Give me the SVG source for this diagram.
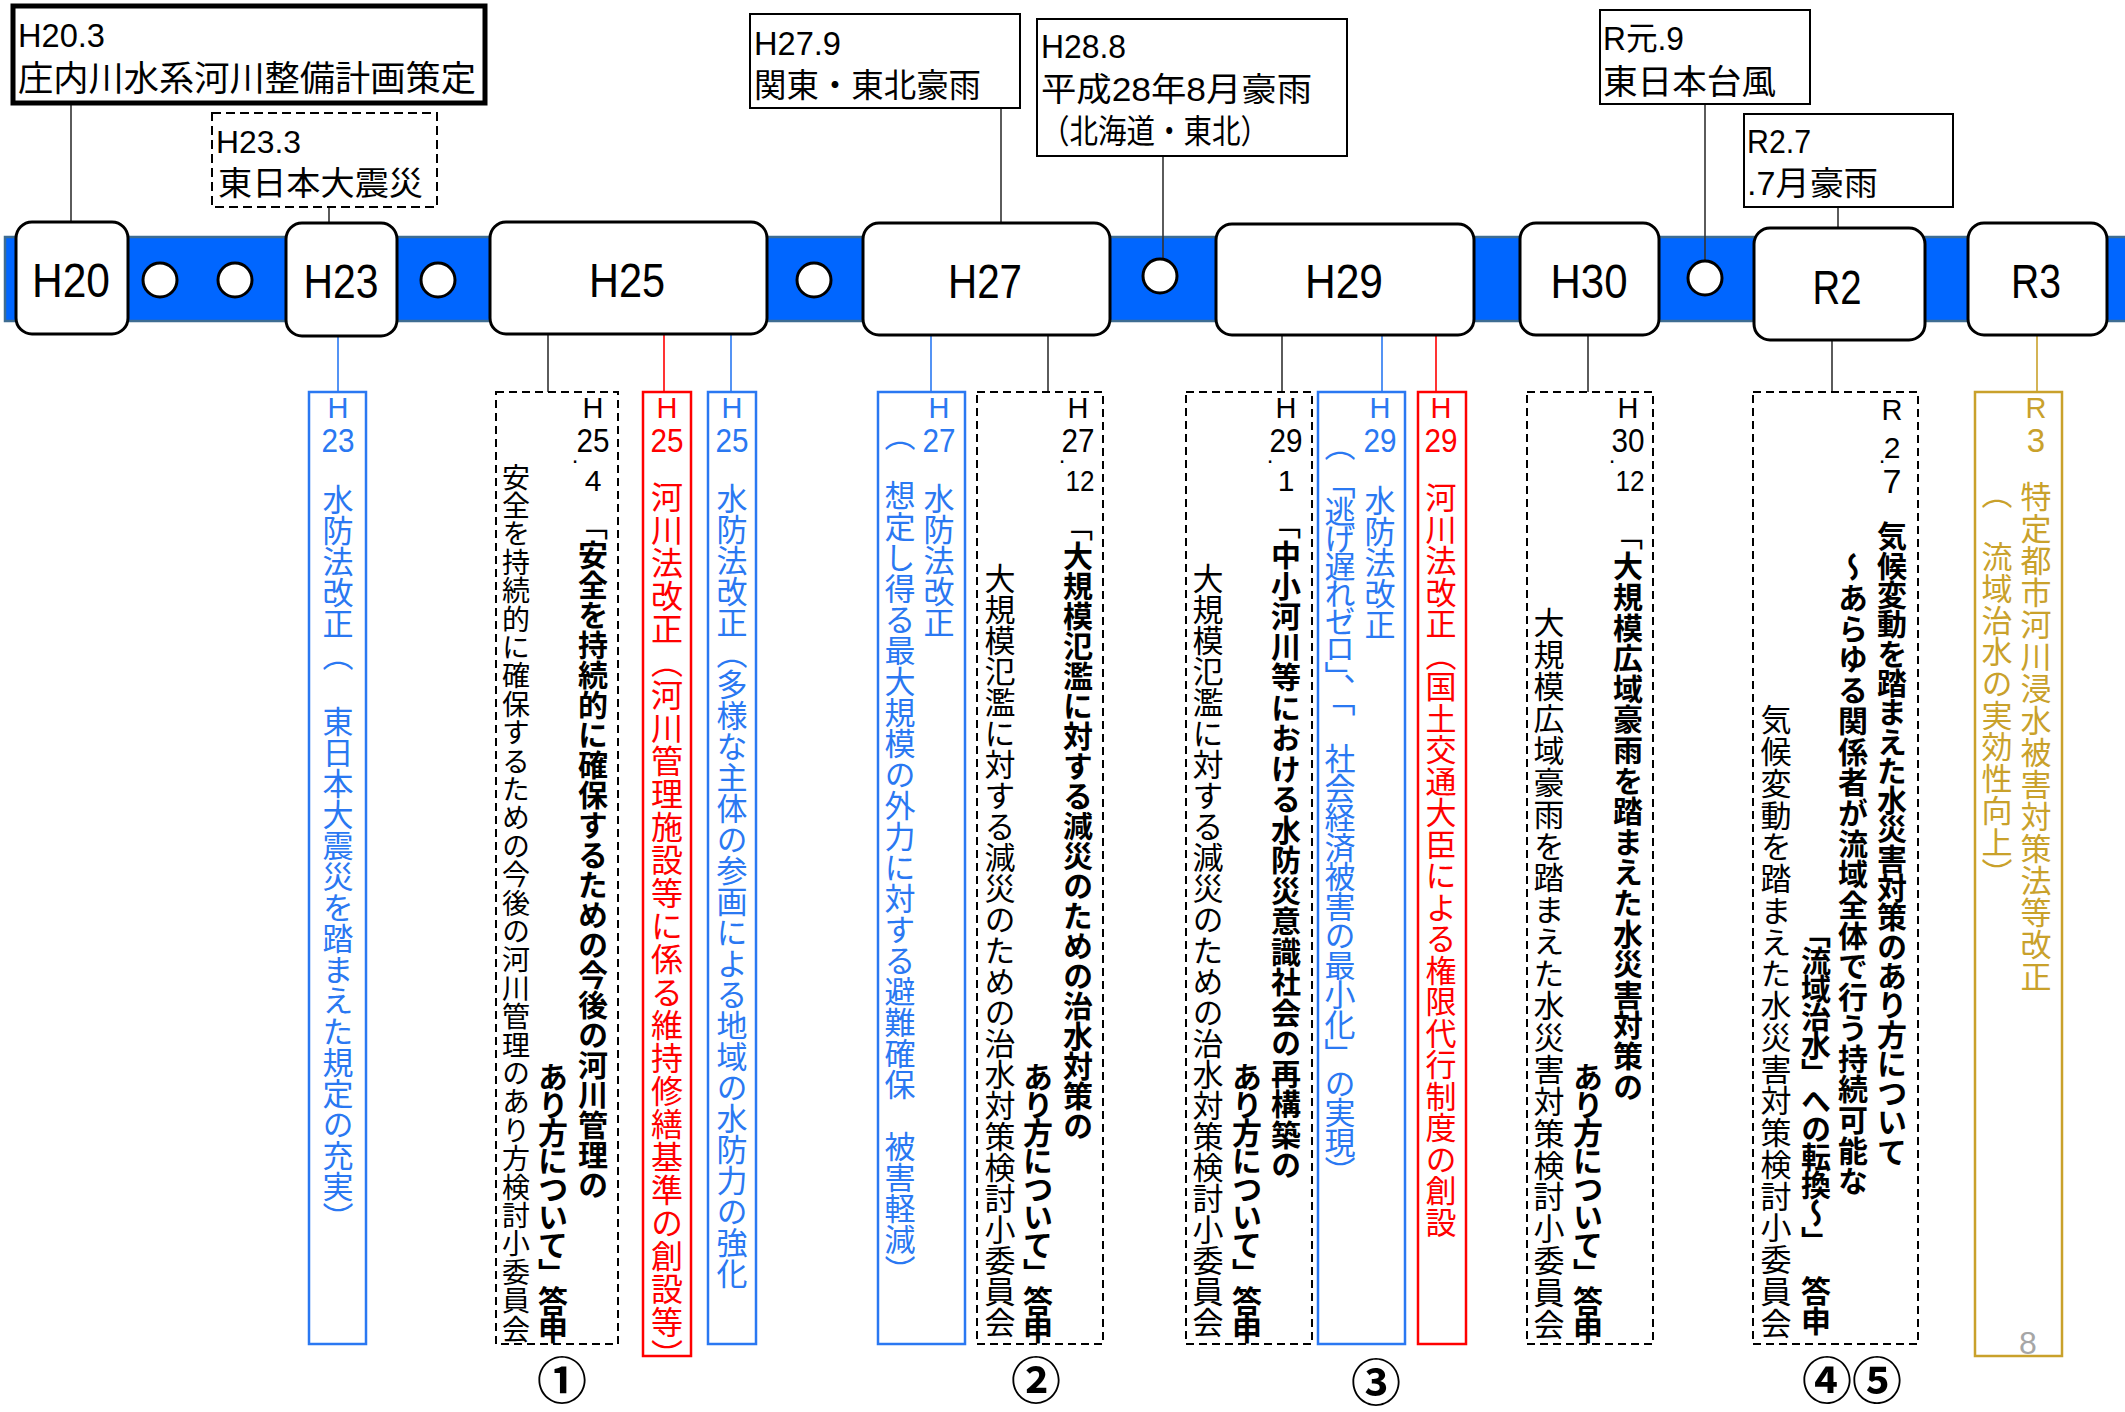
<svg xmlns="http://www.w3.org/2000/svg" width="2125" height="1412" viewBox="0 0 2125 1412">
<defs>
<style>
.band{fill:#0066FF;stroke:#3E6D92;stroke-width:2.5}
.node rect{fill:#fff;stroke:#000;stroke-width:3}
.dot{fill:#fff;stroke:#000;stroke-width:3}
.lbl{font-family:"Liberation Sans","Noto Sans CJK JP",sans-serif;font-size:48px;text-anchor:middle;fill:#000}
.ev rect{fill:#fff;stroke:#000;stroke-width:2}
.ev rect.thick{stroke-width:5}
.ev rect.dash{stroke-dasharray:9 5}
.evt{font-family:"Liberation Sans","Noto Sans CJK JP",sans-serif;fill:#000}
.evj{font-family:"Noto Sans CJK JP",sans-serif;fill:#000}
.box{fill:#fff;stroke-width:2.5}
.bdash{fill:#fff;stroke:#000;stroke-width:2;stroke-dasharray:8 5}
.bblue{stroke:#2A78F2}
.bred{stroke:#FF0000}
.bgold{stroke:#C9A12B}
.v{font-family:"Noto Sans CJK JP",sans-serif;writing-mode:vertical-rl}
.b{font-weight:bold}
.hd{font-family:"Liberation Sans",sans-serif;text-anchor:middle}
.blue{fill:#2A78F2}
.red{fill:#FF0000}
.gold{fill:#C9A12B}
.blk{fill:#000}
.cn{stroke:#333;stroke-width:1.6;fill:none}
.cnb{stroke:#2A78F2;stroke-width:1.6}
.cnr{stroke:#FF0000;stroke-width:1.6}
.cng{stroke:#C9A12B;stroke-width:1.6}
.circ{font-family:"Noto Sans CJK JP",sans-serif;font-size:50px;font-weight:bold;text-anchor:middle;fill:#000}
</style>
</defs>
<rect width="2125" height="1412" fill="#fff"/>

<!-- timeline band -->
<rect class="band" x="5" y="237" width="2125" height="84"/>

<g id="connectors">
  <line class="cn" x1="71" y1="103" x2="71" y2="222"/>
  <line class="cn" x1="329" y1="207" x2="329" y2="223"/>
  <line class="cn" x1="1001" y1="108" x2="1001" y2="223"/>
  <line class="cn" x1="1163" y1="156" x2="1163" y2="259"/>
  <line class="cn" x1="1705" y1="104" x2="1705" y2="261"/>
  <line class="cn" x1="1838" y1="207" x2="1838" y2="228"/>
  <line class="cnb" x1="338" y1="336" x2="338" y2="392"/>
  <line class="cn" x1="548" y1="334" x2="548" y2="392"/>
  <line class="cnr" x1="664" y1="334" x2="664" y2="392"/>
  <line class="cnb" x1="731" y1="334" x2="731" y2="392"/>
  <line class="cnb" x1="931" y1="335" x2="931" y2="392"/>
  <line class="cn" x1="1048" y1="335" x2="1048" y2="392"/>
  <line class="cn" x1="1282" y1="335" x2="1282" y2="392"/>
  <line class="cnb" x1="1382" y1="335" x2="1382" y2="392"/>
  <line class="cnr" x1="1436" y1="335" x2="1436" y2="392"/>
  <line class="cn" x1="1588" y1="335" x2="1588" y2="392"/>
  <line class="cn" x1="1832" y1="340" x2="1832" y2="392"/>
  <line class="cng" x1="2037" y1="335" x2="2037" y2="392"/>
</g>

<!-- small event circles on the band -->
<g id="dots">
  <circle class="dot" cx="160" cy="280" r="17"/>
  <circle class="dot" cx="235" cy="280" r="17"/>
  <circle class="dot" cx="438" cy="280" r="17"/>
  <circle class="dot" cx="814" cy="280" r="17"/>
  <circle class="dot" cx="1160" cy="276" r="17"/>
  <circle class="dot" cx="1705" cy="278" r="17"/>
</g>

<!-- year nodes -->
<g id="node-H20" class="node"><rect x="16" y="222" width="112" height="112" rx="16"/><text class="lbl" x="71" y="297" textLength="78" lengthAdjust="spacingAndGlyphs">H20</text></g>
<g id="node-H23" class="node"><rect x="286" y="223" width="111" height="113" rx="16"/><text class="lbl" x="341" y="298" textLength="75" lengthAdjust="spacingAndGlyphs">H23</text></g>
<g id="node-H25" class="node"><rect x="490" y="222" width="277" height="112" rx="16"/><text class="lbl" x="627" y="297" textLength="76" lengthAdjust="spacingAndGlyphs">H25</text></g>
<g id="node-H27" class="node"><rect x="863" y="223" width="247" height="112" rx="16"/><text class="lbl" x="985" y="298" textLength="74" lengthAdjust="spacingAndGlyphs">H27</text></g>
<g id="node-H29" class="node"><rect x="1216" y="224" width="258" height="111" rx="16"/><text class="lbl" x="1344" y="298" textLength="78" lengthAdjust="spacingAndGlyphs">H29</text></g>
<g id="node-H30" class="node"><rect x="1520" y="223" width="139" height="112" rx="16"/><text class="lbl" x="1589" y="298" textLength="77" lengthAdjust="spacingAndGlyphs">H30</text></g>
<g id="node-R2" class="node"><rect x="1754" y="228" width="171" height="112" rx="16"/><text class="lbl" x="1837" y="304" textLength="49" lengthAdjust="spacingAndGlyphs">R2</text></g>
<g id="node-R3" class="node"><rect x="1968" y="223" width="139" height="112" rx="16"/><text class="lbl" x="2036" y="298" textLength="50" lengthAdjust="spacingAndGlyphs">R3</text></g>

<!-- top event boxes -->
<g id="ev-H20-3" class="ev">
  <rect class="thick" x="13" y="6" width="472" height="97"/>
  <text class="evt" x="18" y="47" font-size="34" textLength="87" lengthAdjust="spacingAndGlyphs">H20.3</text>
  <text class="evj" x="18" y="91" font-size="35" textLength="458" lengthAdjust="spacingAndGlyphs">庄内川水系河川整備計画策定</text>
</g>
<g id="ev-H23-3" class="ev">
  <rect class="dash" x="212" y="113" width="225" height="94"/>
  <text class="evt" x="216" y="153" font-size="32" textLength="85" lengthAdjust="spacingAndGlyphs">H23.3</text>
  <text class="evj" x="218" y="195" font-size="33" textLength="205" lengthAdjust="spacingAndGlyphs">東日本大震災</text>
</g>
<g id="ev-H27-9" class="ev">
  <rect x="750" y="14" width="270" height="94"/>
  <text class="evt" x="754" y="55" font-size="33" textLength="87" lengthAdjust="spacingAndGlyphs">H27.9</text>
  <text class="evj" x="754" y="97" font-size="33" textLength="227" lengthAdjust="spacingAndGlyphs">関東・東北豪雨</text>
</g>
<g id="ev-H28-8" class="ev">
  <rect x="1037" y="19" width="310" height="137"/>
  <text class="evt" x="1041" y="58" font-size="33" textLength="85" lengthAdjust="spacingAndGlyphs">H28.8</text>
  <text class="evt" x="1041" y="101" font-size="33" textLength="271" lengthAdjust="spacingAndGlyphs">平成28年8月豪雨</text>
  <text class="evj" x="1041" y="143" font-size="33" textLength="228" lengthAdjust="spacingAndGlyphs">（北海道・東北）</text>
</g>
<g id="ev-R1-9" class="ev">
  <rect x="1600" y="10" width="210" height="94"/>
  <text class="evt" x="1603" y="50" font-size="33" textLength="81" lengthAdjust="spacingAndGlyphs">R元.9</text>
  <text class="evj" x="1603" y="94" font-size="34" textLength="173" lengthAdjust="spacingAndGlyphs">東日本台風</text>
</g>
<g id="ev-R2-7" class="ev">
  <rect x="1744" y="114" width="209" height="93"/>
  <text class="evt" x="1747" y="153" font-size="33" textLength="64" lengthAdjust="spacingAndGlyphs">R2.7</text>
  <text class="evt" x="1747" y="195" font-size="33" textLength="131" lengthAdjust="spacingAndGlyphs">.7月豪雨</text>
</g>

<!-- H23 water prevention law -->
<g id="box-H23-blue">
  <rect class="box bblue" x="309" y="392" width="57" height="952"/>
  <text class="hd blue" x="338" y="418" font-size="29">H</text>
  <text class="hd blue" x="338" y="452" font-size="33" textLength="33" lengthAdjust="spacingAndGlyphs">23</text>
  <text class="v blue" x="338" y="484" font-size="31">水防法改正</text>
  <text class="v blue" x="338" y="640" font-size="31">（</text>
  <text class="v blue" x="338" y="706" font-size="31">東日本大震災を踏まえた規定の充実）</text>
</g>

<!-- H25 report -->
<g id="box-H25-report">
  <rect class="bdash" x="496" y="392" width="122" height="952"/>
  <text class="hd blk" x="593" y="418" font-size="29">H</text>
  <text class="hd blk" x="593" y="452" font-size="33" textLength="33" lengthAdjust="spacingAndGlyphs">25</text>
  <text class="hd blk" x="575" y="463" font-size="24">.</text>
  <text class="hd blk" x="593" y="491" font-size="30">4</text>
  <text class="v blk" x="593" y="510" font-size="30">「<tspan class="b">安全を持続的に確保するための今後の河川管理の</tspan></text>
  <text class="v blk b" x="553" y="1062" font-size="30" letter-spacing="-2">あり方について」答申</text>
  <text class="v blk" x="516" y="463" font-size="28" letter-spacing="0.4">安全を持続的に確保するための今後の河川管理のあり方検討小委員会</text>
</g>
<g id="box-H25-red">
  <rect class="box bred" x="643" y="392" width="48" height="964"/>
  <text class="hd red" x="667" y="418" font-size="29">H</text>
  <text class="hd red" x="667" y="452" font-size="33" textLength="33" lengthAdjust="spacingAndGlyphs">25</text>
  <text class="v red" x="667" y="481" font-size="32" letter-spacing="1">河川法改正（河川管理施設等に係る維持修繕基準の創設等）</text>
</g>
<g id="box-H25-blue">
  <rect class="box bblue" x="708" y="392" width="48" height="952"/>
  <text class="hd blue" x="732" y="418" font-size="29">H</text>
  <text class="hd blue" x="732" y="452" font-size="33" textLength="33" lengthAdjust="spacingAndGlyphs">25</text>
  <text class="v blue" x="732" y="483" font-size="31">水防法改正（多様な主体の参画による地域の水防力の強化</text>
</g>

<!-- H27 -->
<g id="box-H27-blue">
  <rect class="box bblue" x="878" y="392" width="87" height="952"/>
  <text class="hd blue" x="939" y="418" font-size="29">H</text>
  <text class="hd blue" x="939" y="452" font-size="33" textLength="33" lengthAdjust="spacingAndGlyphs">27</text>
  <text class="v blue" x="939" y="483" font-size="31">水防法改正</text>
  <text class="v blue" x="900" y="420" font-size="31">（</text>
  <text class="v blue" x="900" y="480" font-size="31">想定し得る最大規模の外力に対する避難確保　被害軽減）</text>
</g>
<g id="box-H27-report">
  <rect class="bdash" x="977" y="392" width="126" height="952"/>
  <text class="hd blk" x="1078" y="418" font-size="29">H</text>
  <text class="hd blk" x="1078" y="452" font-size="33" textLength="33" lengthAdjust="spacingAndGlyphs">27</text>
  <text class="hd blk" x="1062" y="463" font-size="24">.</text>
  <text class="hd blk" x="1080" y="491" font-size="30" textLength="29" lengthAdjust="spacingAndGlyphs">12</text>
  <text class="v blk" x="1078" y="511" font-size="30">「<tspan class="b">大規模氾濫に対する減災のための治水対策の</tspan></text>
  <text class="v blk b" x="1038" y="1062" font-size="30" letter-spacing="-2">あり方について」答申</text>
  <text class="v blk" x="1000" y="563" font-size="31">大規模氾濫に対する減災のための治水対策検討小委員会</text>
</g>

<!-- H29 -->
<g id="box-H29-report">
  <rect class="bdash" x="1186" y="392" width="126" height="952"/>
  <text class="hd blk" x="1286" y="418" font-size="29">H</text>
  <text class="hd blk" x="1286" y="452" font-size="33" textLength="33" lengthAdjust="spacingAndGlyphs">29</text>
  <text class="hd blk" x="1270" y="463" font-size="24">.</text>
  <text class="hd blk" x="1286" y="491" font-size="30">1</text>
  <text class="v blk" x="1286" y="509" font-size="30" letter-spacing="0.5">「<tspan class="b">中小河川等における水防災意識社会の再構築の</tspan></text>
  <text class="v blk b" x="1247" y="1062" font-size="30" letter-spacing="-2">あり方について」答申</text>
  <text class="v blk" x="1208" y="563" font-size="31">大規模氾濫に対する減災のための治水対策検討小委員会</text>
</g>
<g id="box-H29-blue">
  <rect class="box bblue" x="1318" y="392" width="87" height="952"/>
  <text class="hd blue" x="1380" y="418" font-size="29">H</text>
  <text class="hd blue" x="1380" y="452" font-size="33" textLength="33" lengthAdjust="spacingAndGlyphs">29</text>
  <text class="v blue" x="1380" y="485" font-size="31">水防法改正</text>
  <text class="v blue" x="1340" y="430" font-size="31">（</text>
  <text class="v blue" x="1340" y="468" font-size="31" letter-spacing="-3.5">「逃げ遅れゼロ」、「</text>
  <text class="v blue" x="1340" y="743" font-size="31" letter-spacing="-1.5">社会経済被害の最小化」の実現）</text>
</g>
<g id="box-H29-red">
  <rect class="box bred" x="1418" y="392" width="48" height="952"/>
  <text class="hd red" x="1441" y="418" font-size="29">H</text>
  <text class="hd red" x="1441" y="452" font-size="33" textLength="33" lengthAdjust="spacingAndGlyphs">29</text>
  <text class="v red" x="1441" y="482" font-size="31" letter-spacing="0.5">河川法改正（国土交通大臣による権限代行制度の創設</text>
</g>

<!-- H30 -->
<g id="box-H30-report">
  <rect class="bdash" x="1527" y="392" width="126" height="952"/>
  <text class="hd blk" x="1628" y="418" font-size="29">H</text>
  <text class="hd blk" x="1628" y="452" font-size="33" textLength="33" lengthAdjust="spacingAndGlyphs">30</text>
  <text class="hd blk" x="1612" y="463" font-size="24">.</text>
  <text class="hd blk" x="1630" y="491" font-size="30" textLength="29" lengthAdjust="spacingAndGlyphs">12</text>
  <text class="v blk" x="1628" y="520" font-size="30" letter-spacing="0.6">「<tspan class="b">大規模広域豪雨を踏まえた水災害対策の</tspan></text>
  <text class="v blk b" x="1588" y="1062" font-size="30" letter-spacing="-2">あり方について」答申</text>
  <text class="v blk" x="1549" y="607" font-size="31" letter-spacing="0.9">大規模広域豪雨を踏まえた水災害対策検討小委員会</text>
</g>

<!-- R2 -->
<g id="box-R2-report">
  <rect class="bdash" x="1753" y="392" width="165" height="952"/>
  <text class="hd blk" x="1892" y="420" font-size="29">R</text>
  <text class="hd blk" x="1892" y="458" font-size="30">2</text>
  <text class="hd blk" x="1882" y="463" font-size="24">.</text>
  <text class="hd blk" x="1892" y="493" font-size="34">7</text>
  <text class="v blk b" x="1892" y="521" font-size="30" letter-spacing="-0.7">気候変動を踏まえた水災害対策のあり方について</text>
  <text class="v blk b" x="1853" y="552" font-size="30" letter-spacing="0.7">～あらゆる関係者が流域全体で行う持続可能な</text>
  <text class="v blk b" x="1816" y="918" font-size="30" letter-spacing="-2">「流域治水」への転換～」</text>
  <text class="v blk b" x="1816" y="1276" font-size="30">答申</text>
  <text class="v blk" x="1776" y="704" font-size="31" letter-spacing="0.75">気候変動を踏まえた水災害対策検討小委員会</text>
</g>

<!-- R3 -->
<g id="box-R3-gold">
  <rect class="box bgold" x="1975" y="392" width="87" height="964"/>
  <text class="hd gold" x="2036" y="418" font-size="29">R</text>
  <text class="hd gold" x="2036" y="452" font-size="33">3</text>
  <text class="v gold" x="2036" y="481" font-size="31" letter-spacing="1">特定都市河川浸水被害対策法等改正</text>
  <text class="v gold" x="1997" y="478" font-size="31">（</text>
  <text class="v gold" x="1997" y="541" font-size="31" letter-spacing="0.7">流域治水の実効性向上）</text>
  <text class="hd" x="2028" y="1354" font-size="32" fill="#A6A6A6">8</text>
</g>

<!-- circled numbers -->
<g id="numbers">
  <text class="circ" x="562" y="1399">①</text>
  <text class="circ" x="1036" y="1399">②</text>
  <text class="circ" x="1376" y="1401">③</text>
  <text class="circ" x="1852" y="1399">④⑤</text>
</g>
</svg>
